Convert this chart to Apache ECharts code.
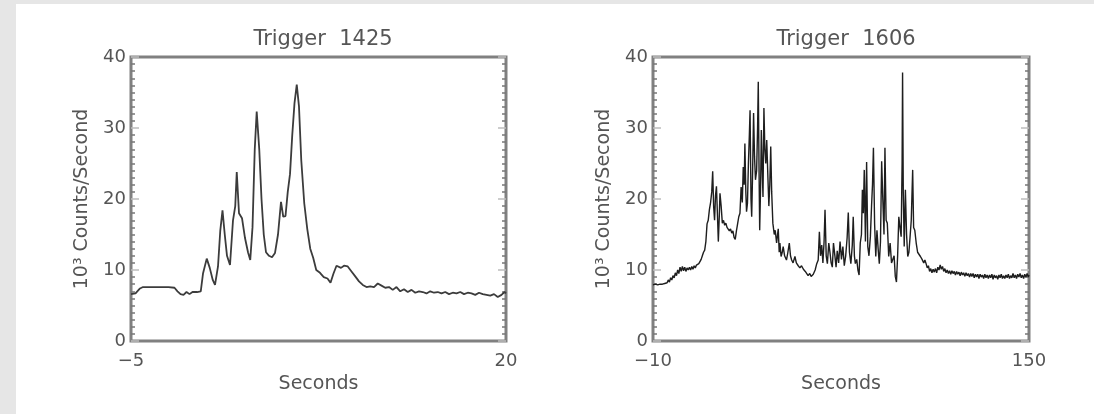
<!DOCTYPE html>
<html>
<head>
<meta charset="utf-8">
<title>BATSE light curves</title>
<script src="https://cdn.jsdelivr.net/npm/echarts@6/dist/echarts.min.js"></script>
<style>
  html, body { margin: 0; padding: 0; width: 1094px; height: 414px; background: #e6e6e6; overflow: hidden; }
  #chart { position: absolute; left: 16px; top: 4px; width: 1078px; height: 410px; background: #ffffff; }
</style>
</head>
<body>
<div id="chart"></div>
<script>
// Trigger 1425: time (s) and rate (10^3 counts/s)
const times1425 = [-5.0, -4.7, -4.4, -4.2, -3.5, -3.0, -2.5, -2.1, -1.9, -1.7, -1.5, -1.3, -1.1, -0.9, -0.6, -0.35,
  -0.2, 0.05, 0.25, 0.45, 0.6, 0.8, 0.95, 1.1, 1.25, 1.4, 1.6, 1.8, 1.95, 2.05, 2.2, 2.4, 2.6, 2.8, 2.95,
  3.1, 3.25, 3.38, 3.55, 3.7, 3.85, 4.0, 4.2, 4.4, 4.6, 4.8, 5.0, 5.15, 5.3, 5.45, 5.6, 5.75, 5.9, 6.05,
  6.2, 6.35, 6.55, 6.75, 6.95, 7.15, 7.35, 7.6, 7.85, 8.1, 8.3, 8.5, 8.7, 9.0, 9.2, 9.45, 9.7, 9.95, 10.2,
  10.45, 10.7, 10.95, 11.2, 11.45, 11.7, 11.95, 12.2, 12.45, 12.7, 12.95, 13.2, 13.45, 13.7, 13.95, 14.2,
  14.45, 14.7, 14.95, 15.2, 15.45, 15.7, 15.95, 16.2, 16.45, 16.7, 16.95, 17.2, 17.45, 17.7, 17.95, 18.2,
  18.45, 18.7, 18.95, 19.2, 19.45, 19.7, 19.9, 20.0];
const counts1425 = [6.6, 6.7, 7.4, 7.6, 7.6, 7.6, 7.6, 7.5, 7.0, 6.6, 6.5, 6.9, 6.6, 6.9, 6.9, 7.0,
  9.5, 11.6, 10.3, 8.6, 7.9, 10.5, 15.5, 18.4, 15.0, 12.0, 10.7, 17.0, 19.0, 23.8, 18.0, 17.3, 14.5, 12.5, 11.4,
  16.0, 27.0, 32.3, 27.0, 20.0, 15.0, 12.5, 12.0, 11.8, 12.4, 15.0, 19.6, 17.5, 17.6, 21.0, 23.5, 29.0, 33.5, 36.1,
  33.0, 25.5, 19.4, 15.8, 13.0, 11.7, 10.0, 9.6, 9.0, 8.8, 8.2, 9.5, 10.6, 10.3, 10.6, 10.5, 9.8, 9.1, 8.4,
  7.9, 7.6, 7.7, 7.6, 8.1, 7.8, 7.5, 7.6, 7.2, 7.6, 7.0, 7.3, 6.9, 7.2, 6.8, 7.0,
  6.9, 6.7, 7.0, 6.8, 6.9, 6.7, 6.9, 6.6, 6.8, 6.7, 6.9, 6.6, 6.8, 6.7, 6.5, 6.8,
  6.6, 6.5, 6.4, 6.6, 6.2, 6.5, 6.9, 6.7];

// Trigger 1606: time (s) and rate (10^3 counts/s)
const times1606 = [-10, -9, -8, -7, -6, -5, -4, -3.5, -3, -2.5, -2, -1.5, -1, -0.5, 0, 0.5, 1, 1.5, 2, 2.5, 3, 3.5, 4, 4.5, 5, 5.5, 6, 6.5,
  7, 7.5, 8, 8.5, 9, 9.5, 10, 10.5, 11, 11.5, 12, 12.5, 13, 13.5, 14, 14.5, 15, 15.4, 15.8, 16.2, 16.6, 17,
  17.4, 17.8, 18.2, 18.5, 19, 19.5, 20, 20.5, 21, 21.5, 22, 22.5, 23, 23.5, 24, 24.5, 25, 25.5, 26, 26.5,
  27, 27.5, 28, 28.4, 28.8, 29.1, 29.5, 29.8, 30.2, 30.6, 31.0, 31.3, 31.7, 32.0, 32.4, 32.8, 33.2, 33.6,
  34.1, 34.5, 34.8, 35.1, 35.4, 35.8, 36.1, 36.5, 36.8, 37.2, 37.6, 38.0, 38.4, 38.9, 39.3, 39.7, 40.1,
  40.5, 41.0, 41.6, 42.0, 42.6, 43.0, 43.3, 43.7, 44.0, 44.5, 45.0, 45.4, 46.0, 46.8, 47.4, 48.0, 48.5,
  49.0, 49.6, 50.4, 51.0, 51.8, 52.5, 53.2, 54.0, 54.8, 55.4, 56.0, 56.7, 57.3, 58.2, 59.0, 59.6, 60.3,
  60.8, 61.3, 61.8, 62.3, 62.8, 63.2, 63.7, 64.2, 64.8, 65.3, 65.8, 66.3, 66.8, 67.4, 67.9, 68.4, 69.0,
  69.6, 70.2, 70.8, 71.4, 72.0, 72.6, 73.1, 73.6, 74.2, 74.8, 75.2, 75.7, 76.1, 76.7, 77.2, 77.7, 78.2,
  78.7, 79.1, 79.5, 79.9, 80.4, 80.9, 81.4, 81.9, 82.5, 83.0, 83.4, 83.8, 84.3, 84.8, 85.3, 85.8, 86.3,
  86.8, 87.3, 87.8, 88.3, 88.7, 89.2, 89.7, 90.3, 90.9, 91.5, 92.0, 92.6, 93.1, 93.6, 94.1, 94.6, 95.1,
  95.6, 96.0, 96.2, 96.5, 96.9, 97.4, 97.9, 98.4, 98.9, 99.4, 99.9, 100.5, 100.9, 101.4, 102.0, 102.6,
  103.2, 103.8, 104.5, 105.2, 105.7, 106.2, 106.7, 107.2, 107.7, 108.2, 108.7, 109.2, 109.7, 110.2, 110.7,
  111.2, 111.7, 112.2, 112.7, 113.2, 113.7, 114.2, 114.7, 115.2, 115.7, 116.2, 116.7, 117.2, 117.7, 118.2,
  118.7, 119.2, 119.7, 120.2, 120.7, 121.2, 121.7, 122.2, 122.7, 123.2, 123.7, 124.2, 124.7, 125.2, 125.7,
  126.2, 126.7, 127.2, 127.7, 128.2, 128.7, 129.2, 129.7, 130.2, 130.7, 131.2, 131.7, 132.2, 132.7, 133.2,
  133.7, 134.2, 134.7, 135.2, 135.7, 136.2, 136.7, 137.2, 137.7, 138.2, 138.7, 139.2, 139.7, 140.2, 140.7,
  141.2, 141.7, 142.2, 142.7, 143.2, 143.7, 144.2, 144.7, 145.2, 145.7, 146.2, 146.7, 147.2, 147.7, 148.2,
  148.7, 149.2, 149.7, 150.0];
const counts1606 = [7.9, 8.0, 7.9, 8.0, 8.0, 8.1, 8.2, 8.6, 8.3, 8.9, 8.6, 9.2, 8.9, 9.6, 9.2, 10.0, 9.5, 10.4, 9.8, 10.5, 9.9, 10.4, 9.8, 10.3, 10.0, 10.4, 10.0, 10.5,
  10.1, 10.6, 10.3, 10.7, 10.5, 10.9, 11.0, 11.5, 12.0, 12.5, 12.8, 14.0, 16.5, 17.0, 18.5, 19.5, 21.0, 23.9, 19.0, 17.0, 20.5, 21.8,
  18.0, 14.0, 17.5, 20.8, 19.0, 16.6, 17.0, 16.3, 16.6, 16.0, 16.2, 15.5, 15.8, 15.2, 15.5, 14.6, 14.3, 15.5, 16.5, 17.5,
  18.0, 21.7, 19.5, 24.5, 22.0, 27.8, 21.0, 18.2, 19.4, 25.0, 29.0, 32.5, 20.0, 17.5, 24.0, 32.1, 26.0, 22.7,
  24.0, 30.0, 36.5, 25.0, 15.6, 22.0, 29.7, 24.0, 20.3, 32.8, 27.0, 25.0, 28.3, 23.0, 19.0, 22.0, 27.4,
  21.0, 16.6, 15.0, 15.6, 13.8, 15.0, 15.8, 12.5, 13.8, 11.9, 12.5, 13.3, 12.0, 11.4, 12.5, 13.8, 12.0,
  11.4, 11.0, 11.9, 11.0, 10.6, 10.3, 10.6, 10.1, 9.8, 10.0, 9.2, 9.5, 9.1, 9.4, 10.0, 10.8, 11.4,
  15.4, 12.0, 13.5, 11.0, 14.0, 18.5, 12.0, 10.9, 13.8, 12.5, 11.0, 10.4, 13.8, 12.0, 10.4, 12.7, 11.0,
  14.0, 11.5, 13.3, 10.6, 12.0, 14.5, 18.1, 12.5, 10.9, 13.5, 17.5, 12.0, 10.9, 11.5, 10.0, 9.3, 13.8,
  15.0, 21.3, 18.0, 24.1, 14.0, 25.2, 13.3, 12.0, 14.7, 19.0, 22.0, 27.2, 16.5, 11.9, 15.6, 13.0, 10.9,
  14.0, 25.3, 19.9, 15.0, 27.2, 17.0, 16.6, 11.9, 13.8, 11.0, 10.9, 12.0, 9.1, 8.3, 12.0, 17.5, 16.0,
  14.7, 25.0, 37.8, 21.0, 13.3, 21.3, 15.0, 11.9, 12.5, 14.7, 17.0, 24.1, 16.0, 15.6, 13.8, 12.5,
  12.7, 11.9, 11.5, 11.0, 11.4, 10.9, 10.3, 10.6, 9.8, 10.2, 9.6, 10.1, 9.7, 10.2, 9.6,
  10.4, 10.0, 10.7, 10.1, 10.5, 9.8, 10.2, 9.6, 10.0, 9.5, 9.9, 9.4, 9.9, 9.5, 9.8,
  9.3, 9.8, 9.4, 9.7, 9.2, 9.7, 9.3, 9.6, 9.1, 9.6, 9.2, 9.5, 9.0, 9.5, 9.1,
  9.5, 8.9, 9.4, 9.0, 9.4, 8.8, 9.4, 9.0, 9.3, 8.8, 9.4, 8.9, 9.3, 8.8, 9.3,
  8.9, 9.4, 8.7, 9.3, 8.9, 9.2, 8.7, 9.3, 8.9, 9.4, 8.8, 9.2, 8.8, 9.3, 8.9,
  9.4, 8.8, 9.2, 8.9, 9.5, 8.9, 9.3, 8.8, 9.4, 9.0, 9.5, 8.9, 9.3, 8.8, 9.4,
  9.0, 9.5, 9.0, 9.3];

// Axis ranges and the tick values that carry labels
const xRange1425 = [-5, 20];
const xRange1606 = [-10, 150];
const yRange = [0, 40];
const yStep = 10;
const panelTitles = ['Trigger  1425', 'Trigger  1606'];
const xName = 'Seconds';
const yName = '10\u00b3 Counts/Second';

const FONT = 'DejaVu Sans';
const INK = '#555555';
const FRAME = '#808080';

const pair = (ts, vs) => ts.map((t, i) => [t, vs[i]]);
const minusFmt = v => (v < 0 ? '\u2212' + Math.abs(v) : String(v));

const grids = [
  { left: 115, top: 53, width: 375, height: 284 },
  { left: 637, top: 53, width: 376, height: 284 }
];

function xAxisFor(idx, range) {
  return {
    type: 'value', gridIndex: idx, min: range[0], max: range[1], interval: range[1] - range[0],
    axisLine: { show: false, onZero: false }, axisTick: { show: false }, splitLine: { show: false },
    axisLabel: { formatter: minusFmt, margin: 11, color: INK, fontFamily: FONT, fontSize: 18 },
    name: xName, nameLocation: 'middle', nameGap: 34,
    nameTextStyle: { color: INK, fontFamily: FONT, fontSize: 19 }
  };
}

function yAxisFor(idx, side) {
  const left = side === 'left';
  return {
    type: 'value', gridIndex: idx, position: side, min: yRange[0], max: yRange[1], interval: yStep,
    axisLine: { show: false, onZero: false },
    axisTick: { show: true, inside: true, length: 8, lineStyle: { color: '#bdbdbd', width: 1.5 } },
    minorTick: { show: true, splitNumber: 10, length: 4, lineStyle: { color: '#777777', width: 1.5 } },
    splitLine: { show: false },
    axisLabel: { show: left, margin: 5, color: INK, fontFamily: FONT, fontSize: 18 },
    name: left ? yName : '', nameLocation: 'middle', nameGap: 39,
    nameTextStyle: { color: INK, fontFamily: FONT, fontSize: 19 }
  };
}

const chart = echarts.init(document.getElementById('chart'), null, { renderer: 'canvas' });
chart.setOption({
  animation: false,
  backgroundColor: '#ffffff',
  title: [
    { text: panelTitles[0], left: 302, top: 20, textAlign: 'center',
      textStyle: { color: INK, fontFamily: FONT, fontSize: 21, fontWeight: 'normal' } },
    { text: panelTitles[1], left: 825, top: 20, textAlign: 'center',
      textStyle: { color: INK, fontFamily: FONT, fontSize: 21, fontWeight: 'normal' } }
  ],
  grid: grids.map(g => Object.assign({ show: true, borderColor: FRAME, borderWidth: 3, backgroundColor: 'transparent' }, g)),
  xAxis: [xAxisFor(0, xRange1425), xAxisFor(1, xRange1606)],
  yAxis: [yAxisFor(0, 'left'), yAxisFor(0, 'right'), yAxisFor(1, 'left'), yAxisFor(1, 'right')],
  series: [
    { type: 'line', xAxisIndex: 0, yAxisIndex: 0, data: pair(times1425, counts1425),
      showSymbol: false, lineStyle: { color: '#3c3c3c', width: 1.8 } },
    { type: 'line', xAxisIndex: 1, yAxisIndex: 2, data: pair(times1606, counts1606),
      showSymbol: false, lineStyle: { color: '#1e1e1e', width: 1.4 } }
  ]
});
</script>
</body>
</html>
